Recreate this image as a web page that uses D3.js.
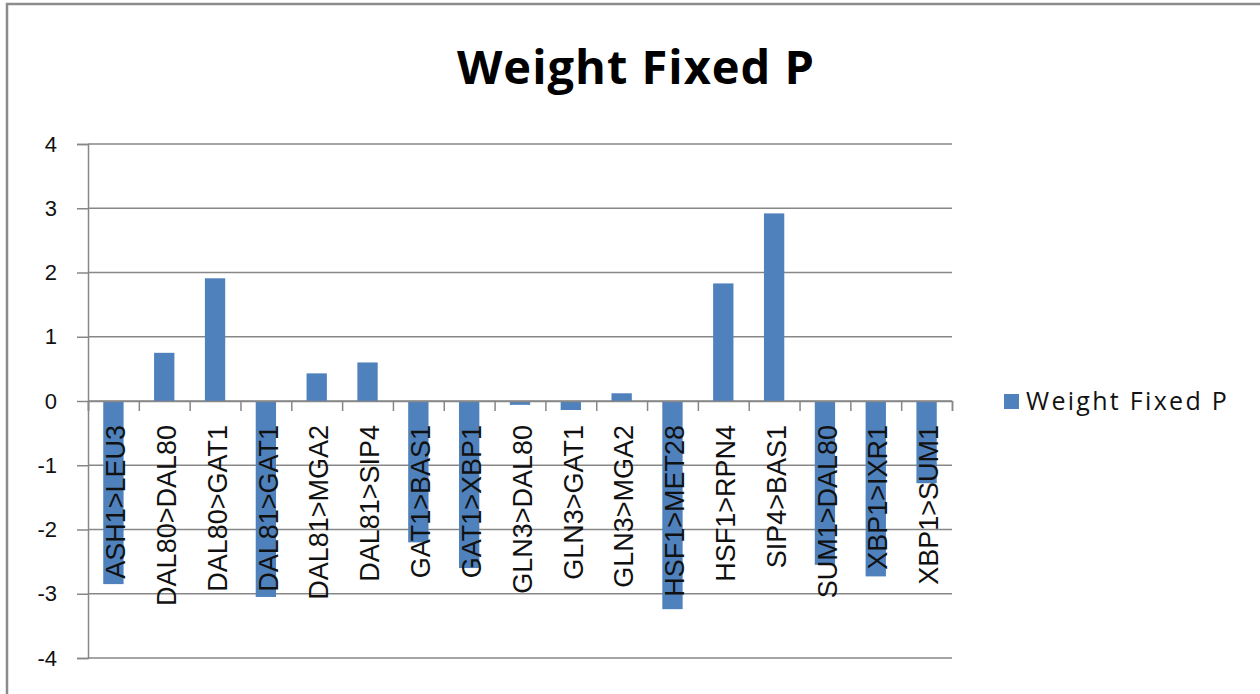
<!DOCTYPE html>
<html>
<head>
<meta charset="utf-8">
<script src="https://cdn.jsdelivr.net/npm/d3@7"></script>
<style>
  body { margin: 0; background: #fff; }
  svg { display: block; }
</style>
</head>
<body>
<svg id="chart" width="1260" height="694"></svg>
<script>
var categories = ["ASH1>LEU3", "DAL80>DAL80", "DAL80>GAT1", "DAL81>GAT1", "DAL81>MGA2",
  "DAL81>SIP4", "GAT1>BAS1", "GAT1>XBP1", "GLN3>DAL80", "GLN3>GAT1", "GLN3>MGA2",
  "HSF1>MET28", "HSF1>RPN4", "SIP4>BAS1", "SUM1>DAL80", "XBP1>IXR1", "XBP1>SUM1"];
var values = [-2.85, 0.75, 1.91, -3.05, 0.43, 0.6, -2.2, -2.6, -0.06, -0.14, 0.12,
  -3.24, 1.83, 2.92, -2.55, -2.73, -1.28];
var yTicks = [-4, -3, -2, -1, 0, 1, 2, 3, 4];
var seriesName = "Weight Fixed P";

var svg = d3.select("#chart");
var plotLeft = 88, plotRight = 952, plotTop = 144, plotBottom = 658;
var barColor = "#4f81bd", gridColor = "#878787";

// outer chart border (only top/left visible in the picture)
svg.append("rect")
  .attr("x", 7).attr("y", 4)
  .attr("width", 1300).attr("height", 740)
  .attr("fill", "none")
  .attr("stroke", "#8c8c8c")
  .attr("stroke-width", 2.5);

var y = d3.scaleLinear().domain([-4, 4]).range([plotBottom, plotTop]);
var x = d3.scaleBand().domain(categories).range([plotLeft, plotRight])
  .paddingInner(0.6).paddingOuter(0.3);

// gridlines
svg.append("g").selectAll("line")
  .data(yTicks)
  .enter().append("line")
    .attr("x1", plotLeft).attr("x2", plotRight)
    .attr("y1", function(d) { return y(d); })
    .attr("y2", function(d) { return y(d); })
    .attr("stroke", gridColor)
    .attr("stroke-width", 1.5);

// y axis
var yAxis = svg.append("g")
  .attr("transform", "translate(" + plotLeft + ",0)")
  .call(d3.axisLeft(y).tickValues(yTicks).tickSize(11).tickPadding(20)
    .tickFormat(function(d) { return String(d); }));
yAxis.select(".domain").attr("stroke", gridColor).attr("stroke-width", 1.5);
yAxis.selectAll(".tick line").attr("stroke", gridColor).attr("stroke-width", 1.5);
yAxis.selectAll("text")
  .attr("font-family", "Liberation Sans, Arial, sans-serif")
  .attr("font-size", 22)
  .attr("fill", "#111");

// bars
svg.append("g").selectAll("rect")
  .data(values)
  .enter().append("rect")
    .attr("x", function(d, i) { return x(categories[i]); })
    .attr("width", x.bandwidth())
    .attr("y", function(d) { return y(Math.max(0, d)); })
    .attr("height", function(d) { return Math.abs(y(d) - y(0)); })
    .attr("fill", barColor);

// category boundary ticks on the zero line
var idx = d3.scaleLinear().domain([0, categories.length]).range([plotLeft, plotRight]);
var xAxis = svg.append("g")
  .attr("transform", "translate(0," + y(0) + ")")
  .call(d3.axisBottom(idx).tickValues(d3.range(categories.length + 1))
    .tickSize(10).tickFormat(""));
xAxis.select(".domain").attr("stroke", gridColor).attr("stroke-width", 1.5);
xAxis.selectAll(".tick line").attr("stroke", gridColor).attr("stroke-width", 1.5);

// category labels, rotated
svg.append("g").selectAll("text")
  .data(categories)
  .enter().append("text")
    .attr("transform", function(d) {
      return "translate(" + (x(d) + x.bandwidth() / 2 + 2) + "," + (y(0) + 24) + ") rotate(-90)";
    })
    .attr("dy", "0.36em")
    .attr("text-anchor", "end")
    .attr("font-family", "Liberation Sans, Arial, sans-serif")
    .attr("font-size", 27)
    .attr("fill", "#111")
    .text(function(d) { return d; });

// title
svg.append("text")
  .attr("x", 636).attr("y", 84)
  .attr("text-anchor", "middle")
  .attr("font-family", "Open Sans, sans-serif")
  .attr("font-weight", "bold")
  .attr("font-size", 47)
  .attr("letter-spacing", 1)
  .attr("fill", "#000")
  .text(seriesName);

// legend
var legend = svg.append("g").attr("transform", "translate(1004,394)");
legend.append("rect")
  .attr("width", 15).attr("height", 15)
  .attr("fill", barColor);
legend.append("text")
  .attr("x", 22).attr("y", 16)
  .attr("font-family", "Open Sans, sans-serif")
  .attr("font-size", 25)
  .attr("letter-spacing", 2.3)
  .attr("fill", "#111")
  .text(seriesName);
</script>
</body>
</html>
